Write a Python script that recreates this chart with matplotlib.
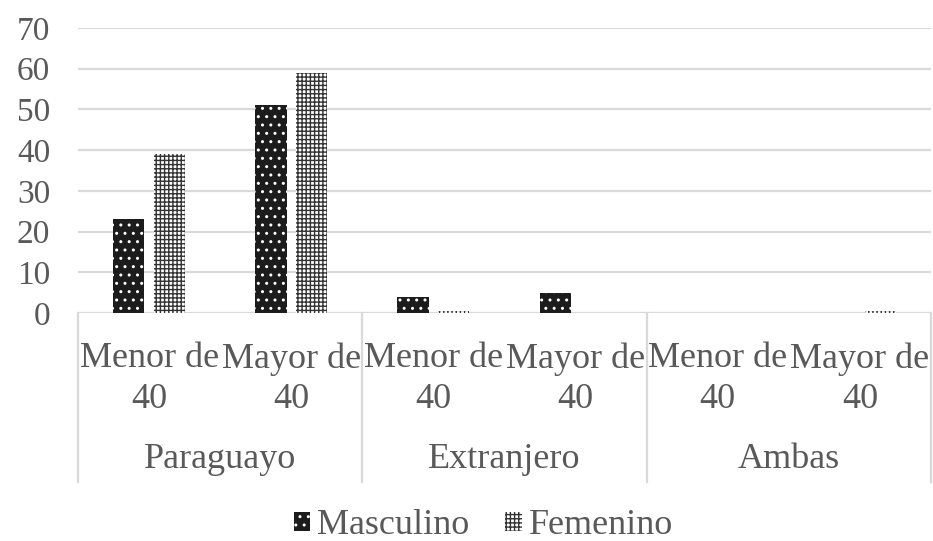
import matplotlib
matplotlib.use("Agg")
import matplotlib.pyplot as plt
from matplotlib.patches import Patch
import numpy as np

groups = ["Paraguayo", "Extranjero", "Ambas"]
ages = ["Menor de\n40", "Mayor de\n40"]
series = ["Masculino", "Femenino"]
masculino = [23, 51, 4, 5, 0, 0]
femenino = [39, 59, 0.5, 0, 0, 0.5]
yticks = [0, 10, 20, 30, 40, 50, 60, 70]

W, H = 933, 541
plt.rcParams["font.family"] = ["Liberation Serif", "DejaVu Serif"]
plt.rcParams["hatch.linewidth"] = 1.0
txt = "#595959"
grid = "#d9d9d9"

fig = plt.figure(figsize=(W / 100, H / 100), dpi=100)
x0, x1 = 78, 931
ytop, ybot = 28, 313
ax = fig.add_axes([x0 / W, 1 - ybot / H, (x1 - x0) / W, (ybot - ytop) / H])

n = len(masculino)
x = np.arange(n)
bw = 0.22
off = 0.143
ax.bar(x - off, masculino, bw, facecolor="#1c1c1c", edgecolor="white",
       hatch="..", linewidth=0, zorder=3)
ax.bar(x + off, femenino, bw, facecolor="white", edgecolor="#333333",
       hatch="++++", linewidth=0, zorder=3)

ax.set_xlim(-0.5, n - 0.5)
ax.set_ylim(0, 70)
ax.set_yticks(yticks)
ax.set_yticklabels([str(v) for v in yticks], fontsize=24, color=txt)
ax.tick_params(axis="y", length=0, pad=20)
ax.set_xticks([])
for s in ax.spines.values():
    s.set_visible(False)
ax.yaxis.grid(True, color=grid, linewidth=1.6, zorder=0)
ax.set_axisbelow(True)

def fy(px):
    return 1 - px / H

trans = matplotlib.transforms.blended_transform_factory(ax.transData, fig.transFigure)
# separators
for sx in [-0.5, 1.5, 3.5, 5.5]:
    ax.plot([sx, sx], [fy(313), fy(482)], transform=trans, color=grid,
            linewidth=1.6, clip_on=False)
# category labels
for i in range(n):
    ax.text(i, fy(379), ages[i % 2], transform=trans, ha="center", va="center",
            fontsize=26, color=txt, linespacing=1.3)
for g, name in enumerate(groups):
    ax.text(2 * g + 0.5, fy(460), name, transform=trans, ha="center",
            va="center", fontsize=26, color=txt)

handles = [Patch(facecolor="#1c1c1c", edgecolor="white", hatch="..", linewidth=0),
           Patch(facecolor="white", edgecolor="#333333", hatch="++++", linewidth=0)]
leg = fig.legend(handles, series, loc="center", bbox_to_anchor=(0.518, fy(526)),
                 ncol=2, frameon=False, fontsize=26, handlelength=0.45,
                 handleheight=0.45, handletextpad=0.2, columnspacing=1.0,
                 labelcolor=txt)

fig.savefig("out.png", dpi=100)
